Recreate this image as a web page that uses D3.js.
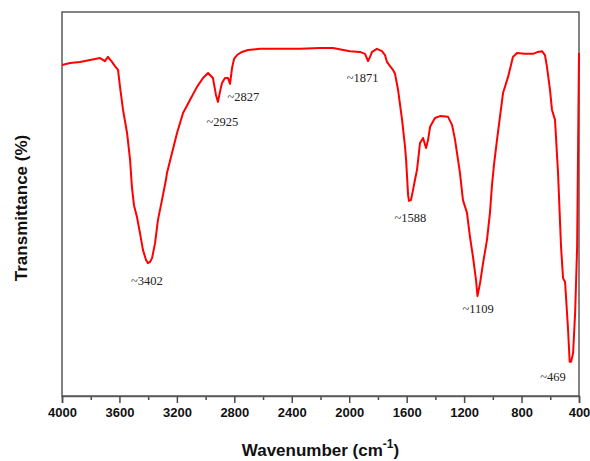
<!DOCTYPE html>
<html>
<head>
<meta charset="utf-8">
<script src="https://cdn.jsdelivr.net/npm/d3@7"></script>
<style>
  html, body { margin: 0; padding: 0; background: #fff; }
  svg { display: block; }
</style>
</head>
<body>
<svg id="chart" width="590" height="461"></svg>
<script>
// ---- data ----
const wavenumber = [4000,3944,3875,3805,3735,3701,3680,3652,3631,3610,3596,3575,3547,3526,3513,3499,3478,3457,3436,3415,3401,3387,3373,3352,3332,3304,3276,3269,3234,3199,3157,3109,3060,3018,2983,2949,2928,2914,2900,2886,2865,2844,2830,2816,2802,2781,2747,2705,2621,2482,2343,2204,2113,1995,1925,1890,1869,1855,1841,1807,1772,1751,1737,1716,1695,1681,1660,1632,1611,1604,1590,1584,1570,1556,1542,1528,1507,1486,1465,1451,1437,1403,1368,1312,1284,1263,1229,1208,1180,1159,1138,1117,1107,1089,1068,1041,1020,1006,992,971,929,894,860,832,776,720,686,658,637,623,602,588,567,546,525,511,497,476,465,455,441,427,413,406,400];
const transmittance = [86.2,86.7,87.0,87.5,88.0,87.2,88.3,87.0,85.9,84.9,80.5,74.5,68.5,61.5,54.4,49.7,46.6,42.4,38.0,35.4,34.6,34.9,35.9,39.8,45.8,51.0,56.3,58.1,63.3,68.5,73.7,77.1,80.5,82.8,84.1,82.8,78.4,76.6,79.2,81.5,82.8,82.8,81.3,85.4,87.8,88.8,89.6,90.1,90.4,90.4,90.4,90.6,90.6,89.8,89.6,89.1,87.2,88.3,89.6,90.4,89.8,88.8,87.0,85.9,84.9,83.9,79.7,71.9,64.8,61.5,52.3,50.8,51.0,53.6,56.3,58.9,65.9,67.2,64.6,66.7,70.1,72.4,72.9,72.7,70.6,66.7,58.1,51.0,47.7,41.4,36.2,30.2,26.0,29.4,34.6,40.6,47.7,54.9,60.2,66.7,78.9,83.1,88.3,89.3,89.1,89.1,89.6,89.8,88.8,85.7,79.7,74.5,71.9,58.1,38.8,30.7,29.7,17.2,8.9,8.9,11.2,21.6,38.8,65.9,89.3];

const peakWavenumbers = [3402, 2925, 2827, 1871, 1588, 1109, 469];
const peakLabels = ["~3402", "~2925", "~2827", "~1871", "~1588", "~1109", "~469"];
const peakTransmittance = [34.6, 76.6, 81.3, 87.2, 50.8, 26.0, 8.9];

const xTicks = [4000, 3600, 3200, 2800, 2400, 2000, 1600, 1200, 800, 400];

// ---- layout ----
const svg = d3.select("#chart");
const mLeft = 62, mRight = 579, mTop = 12, mBottom = 396;

const x = d3.scaleLinear().domain([4000, 400]).range([mLeft, mRight]);
const y = d3.scaleLinear().domain([0, 100]).range([mBottom, mTop]);

// frame
svg.append("rect")
  .attr("x", mLeft).attr("y", mTop)
  .attr("width", mRight - mLeft).attr("height", mBottom - mTop)
  .attr("fill", "none").attr("stroke", "#5a5a5a").attr("stroke-width", 1.5);

// minor ticks
const minorAxis = d3.axisBottom(x).tickValues(d3.range(3800, 400, -400)).tickSize(4).tickFormat("");
svg.append("g").attr("transform", `translate(0,${mBottom})`).call(minorAxis)
  .call(g => g.select(".domain").remove())
  .call(g => g.selectAll("line").attr("stroke", "#4a4a4a").attr("stroke-width", 1.5));

// major ticks
const xAxis = d3.axisBottom(x).tickValues(xTicks).tickSize(7).tickPadding(5).tickFormat(d3.format("d"));
svg.append("g").attr("transform", `translate(0,${mBottom})`).call(xAxis)
  .call(g => g.select(".domain").attr("stroke", "#5a5a5a").attr("stroke-width", 1.5))
  .call(g => g.selectAll("line").attr("stroke", "#4a4a4a").attr("stroke-width", 1.5))
  .call(g => g.selectAll("text")
    .attr("font-family", "Liberation Sans, Arial, sans-serif")
    .attr("font-size", 13).attr("font-weight", "bold").attr("fill", "#111"));

// spectrum line
const line = d3.line().x((d, i) => x(wavenumber[i])).y((d, i) => y(transmittance[i]));
svg.append("path")
  .datum(transmittance)
  .attr("d", line)
  .attr("fill", "none")
  .attr("stroke", "#ff0000")
  .attr("stroke-width", 2)
  .attr("stroke-linejoin", "round");

// peak annotations (offsets are styling relative to the peak)
const labelOffsets = [[-1, 22], [6, 24], [13, 17], [-5, 21], [2, 21], [1, 17], [-16, 19]];
svg.append("g").selectAll("text")
  .data(peakLabels)
  .join("text")
  .attr("x", (d, i) => x(peakWavenumbers[i]) + labelOffsets[i][0])
  .attr("y", (d, i) => y(peakTransmittance[i]) + labelOffsets[i][1])
  .attr("text-anchor", "middle")
  .attr("font-family", "Liberation Serif, Times New Roman, serif")
  .attr("font-size", 12.5)
  .attr("fill", "#222")
  .text(d => d);

// axis titles
const xt = svg.append("text")
  .attr("x", (mLeft + mRight) / 2).attr("y", 456)
  .attr("text-anchor", "middle")
  .attr("font-family", "Liberation Sans, Arial, sans-serif")
  .attr("font-size", 17).attr("font-weight", "bold").attr("fill", "#111");
xt.append("tspan").text("Wavenumber (cm");
xt.append("tspan").attr("font-size", 12).attr("dy", -8).text("-1");
xt.append("tspan").attr("dy", 8).text(")");

svg.append("text")
  .attr("transform", `translate(27,${(mTop + mBottom) / 2 + 4}) rotate(-90)`)
  .attr("text-anchor", "middle")
  .attr("font-family", "Liberation Sans, Arial, sans-serif")
  .attr("font-size", 17).attr("font-weight", "bold").attr("fill", "#111")
  .text("Transmittance (%)");
</script>
</body>
</html>
